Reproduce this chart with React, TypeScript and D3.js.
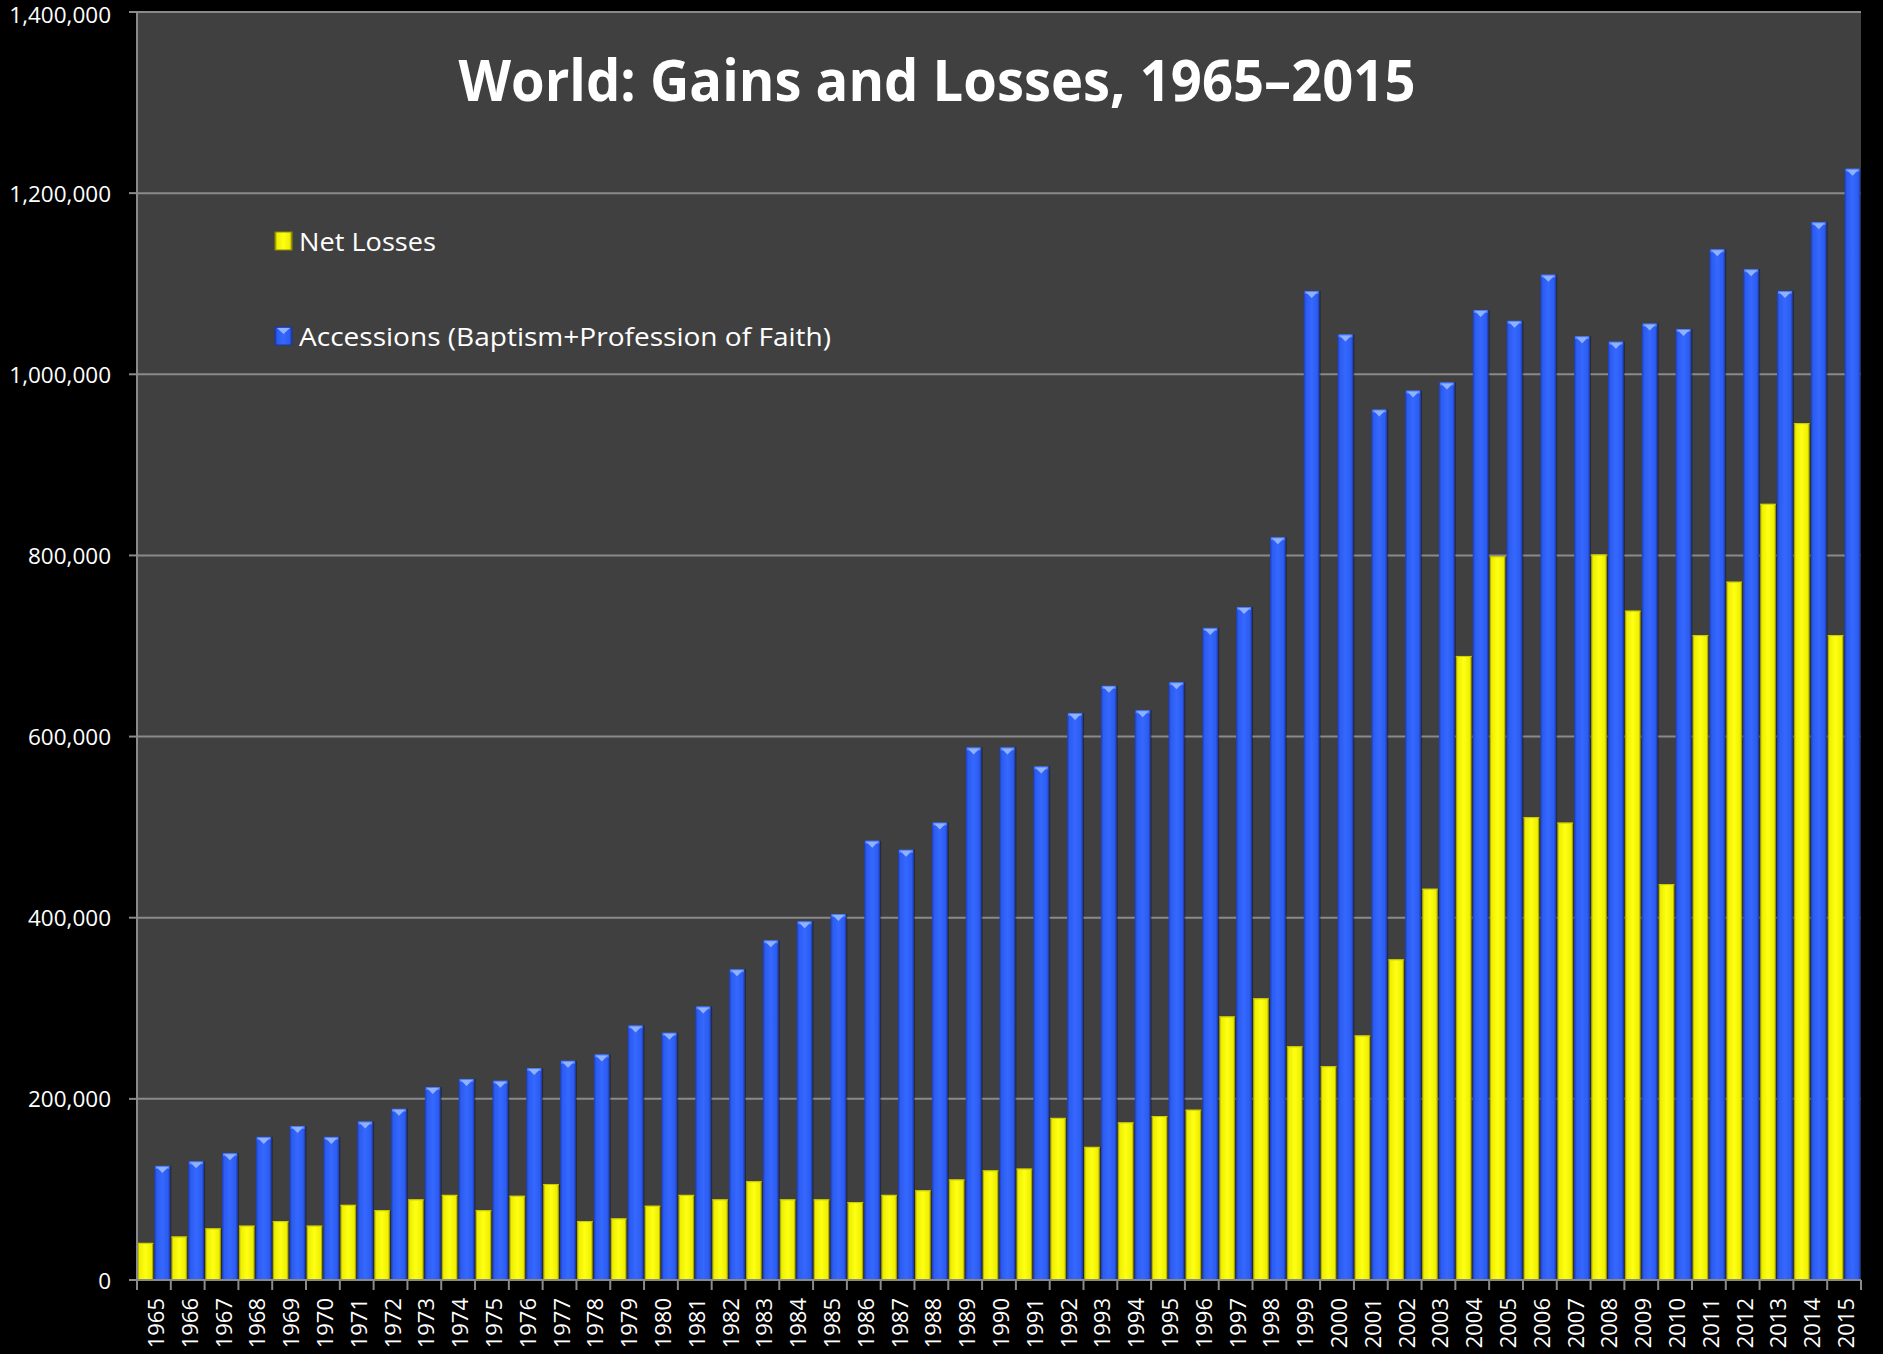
import React from "react";
import * as d3 from "d3";

const years: string[] = d3.range(1965, 2016).map(String);

const netLosses: number[] = [
  41000, 48000, 57000, 60000, 65000, 60000, 83000, 77000, 89000, 94000,
  77000, 93000, 106000, 65000, 68000, 82000, 94000, 89000, 109000, 89000,
  89000, 86000, 94000, 99000, 111000, 121000, 123000, 179000, 147000, 174000,
  181000, 188000, 291000, 311000, 258000, 236000, 270000, 354000, 432000, 689000,
  799000, 511000, 505000, 801000, 739000, 437000, 712000, 771000, 857000, 946000,
  712000,
];

const accessions: number[] = [
  126000, 131000, 140000, 158000, 170000, 158000, 175000, 189000, 213000, 222000,
  220000, 234000, 242000, 249000, 281000, 273000, 302000, 343000, 375000, 396000,
  404000, 485000, 475000, 505000, 588000, 588000, 567000, 626000, 656000, 629000,
  660000, 720000, 743000, 820000, 1092000, 1044000, 961000, 982000, 991000, 1071000,
  1059000, 1110000, 1042000, 1036000, 1056000, 1050000, 1138000, 1116000, 1092000, 1168000,
  1227000,
];

const yTicks: number[] = [0, 200000, 400000, 600000, 800000, 1000000, 1200000, 1400000];

const titleText = "World: Gains and Losses, 1965\u20132015";
const legendLabels: string[] = ["Net Losses", "Accessions (Baptism+Profession of Faith)"];

const W = 1883;
const H = 1354;
const M = { left: 137, right: 1861, top: 12, bottom: 1280 };

export default function App() {
  const x = d3.scaleBand<string>().domain(years).range([M.left, M.right]).padding(0);
  const y = d3.scaleLinear().domain([0, 1400000]).range([M.bottom, M.top]);
  const bw = x.bandwidth();
  const barW = bw / 2 - 1;
  const fmt = d3.format(",");
  const font = "'Open Sans', 'DejaVu Sans', sans-serif";

  const tickXs = years.map((yr) => x(yr) as number).concat([M.right]);

  return (
    <div style={{ position: "absolute", left: 0, top: 0, width: W, height: H, background: "#000" }}>
      <svg width={W} height={H} style={{ display: "block" }}>
        <defs>
          <linearGradient id="gBlue" x1="0" x2="1" y1="0" y2="0">
            <stop offset="0" stopColor="#1b3db8" />
            <stop offset="0.15" stopColor="#2c5cf0" />
            <stop offset="0.5" stopColor="#3568ff" />
            <stop offset="0.85" stopColor="#2c5cf0" />
            <stop offset="1" stopColor="#1a36a0" />
          </linearGradient>
          <linearGradient id="gYellow" x1="0" x2="1" y1="0" y2="0">
            <stop offset="0" stopColor="#8c8c00" />
            <stop offset="0.12" stopColor="#eeee00" />
            <stop offset="0.5" stopColor="#ffff14" />
            <stop offset="0.88" stopColor="#eeee00" />
            <stop offset="1" stopColor="#7a7a00" />
          </linearGradient>
        </defs>
        <rect x={0} y={0} width={W} height={H} fill="#000" />
        <rect x={M.left} y={M.top} width={M.right - M.left} height={M.bottom - M.top} fill="#404040" />

        {yTicks.map((t) => (
          <g key={"g" + t}>
            {t > 0 && (
              <line x1={M.left} x2={M.right} y1={y(t)} y2={y(t)} stroke="#8a8a8a" strokeWidth={2} />
            )}
            <line x1={M.left - 8} x2={M.left} y1={y(t)} y2={y(t)} stroke="#8a8a8a" strokeWidth={2} />
            <text
              x={111}
              y={y(t) + (t === 1400000 ? 2 : 0)}
              textAnchor="end"
              dominantBaseline="central"
              fill="#fff"
              fontFamily={font}
              fontSize={22.5}
            >
              {fmt(t)}
            </text>
          </g>
        ))}

        {years.map((yr, i) => {
          const x0 = x(yr) as number;
          const yl = y(netLosses[i]);
          const ya = y(accessions[i]);
          const xb = x0 + bw / 2 + 0.5;
          return (
            <g key={yr}>
              <rect x={x0 + 1.5} y={yl} width={barW} height={M.bottom - yl} fill="#000" opacity={0.35} />
              <rect x={x0 + 0.5} y={yl} width={barW} height={M.bottom - yl} fill="url(#gYellow)" />
              <line x1={x0 + 0.5} x2={x0 + 0.5 + barW} y1={yl + 0.5} y2={yl + 0.5} stroke="#cccc00" strokeWidth={1} />
              <rect x={xb + 1} y={ya} width={barW} height={M.bottom - ya} fill="#000" opacity={0.35} />
              <rect x={xb} y={ya} width={barW} height={M.bottom - ya} fill="url(#gBlue)" />
              <rect x={xb + 1} y={ya} width={barW - 2} height={3} fill="#4f7fff" />
              <path
                d={`M${xb + 2},${ya + 1} L${xb + barW - 2},${ya + 1} L${xb + barW / 2},${ya + 7} Z`}
                fill="#8fb2ff"
              />
            </g>
          );
        })}

        <line x1={M.left} x2={M.left} y1={M.top} y2={M.bottom} stroke="#8a8a8a" strokeWidth={2} />
        <line x1={M.left - 8} x2={M.right} y1={M.bottom} y2={M.bottom} stroke="#8a8a8a" strokeWidth={2} />
        {tickXs.map((tx, i) => (
          <line key={"t" + i} x1={tx} x2={tx} y1={M.bottom} y2={M.bottom + 10} stroke="#8a8a8a" strokeWidth={2} />
        ))}
        {years.map((yr) => {
          const cx = (x(yr) as number) + bw / 2;
          return (
            <text
              key={"l" + yr}
              transform={`translate(${cx + 1},1298) rotate(-90)`}
              textAnchor="end"
              dominantBaseline="central"
              fill="#fff"
              fontFamily={font}
              fontSize={22}
            >
              {yr}
            </text>
          );
        })}

        <text
          x={937}
          y={101}
          textAnchor="middle"
          fill="#fff"
          fontFamily={font}
          fontWeight={700}
          fontSize={57}
          textLength={957}
          lengthAdjust="spacingAndGlyphs"
        >
          {titleText}
        </text>

        {legendLabels.map((lab, i) => {
          const cy = i === 0 ? 241 : 336;
          const fill = i === 0 ? "url(#gYellow)" : "url(#gBlue)";
          return (
            <g key={lab}>
              <rect x={275} y={cy - 9} width={17} height={18} fill={fill} stroke={i === 0 ? "#8c8c00" : "#1a36a0"} strokeWidth={1} />
              {i === 1 && (
                <path d={`M277,${cy - 8} L290,${cy - 8} L283.5,${cy - 2} Z`} fill="#8fb2ff" />
              )}
              <text
                x={299}
                y={cy}
                dominantBaseline="central"
                fill="#fff"
                fontFamily={font}
                fontSize={26}
                textLength={i === 0 ? 137 : 532}
                lengthAdjust="spacingAndGlyphs"
              >
                {lab}
              </text>
            </g>
          );
        })}
      </svg>
    </div>
  );
}
